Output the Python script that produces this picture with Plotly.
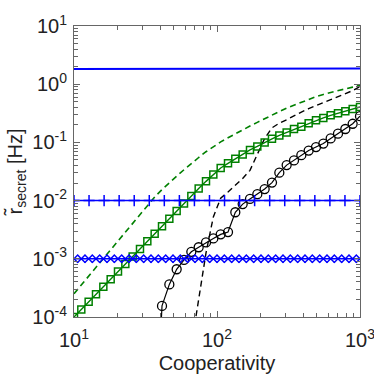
import plotly.graph_objects as go

# cooperativity grid (40 log-spaced points from 10 to 1000)
coop = [10.0, 11.25, 12.66, 14.25, 16.04, 18.05, 20.31, 22.86, 25.72, 28.94,
        32.57, 36.65, 41.25, 46.42, 52.23, 58.78, 66.15, 74.44, 83.77, 94.27,
        106.1, 119.4, 134.3, 151.2, 170.1, 191.4, 215.4, 242.4, 272.8, 307.0,
        345.5, 388.8, 437.5, 492.4, 554.1, 623.5, 701.7, 789.6, 888.6, 1000.0]

# coarser grid (20 points) for the '+' series
coop_coarse = [10.0, 12.74, 16.24, 20.69, 26.37, 33.60, 42.81, 54.56, 69.52, 88.59,
               112.9, 143.8, 183.3, 233.6, 297.6, 379.3, 483.3, 615.8, 784.8, 1000.0]

coop_ends = [10.0, 1000.0]
blue_top = [1.83, 1.86]

blue_plus = [0.01] * 20
blue_x = [0.001] * 40

green_sq = [1.0e-4, 1.35e-4, 1.82e-4, 2.45e-4, 3.31e-4, 4.47e-4, 6.03e-4, 8.13e-4, 1.10e-3, 1.48e-3,
            2.00e-3, 2.69e-3, 3.63e-3, 4.90e-3, 6.61e-3, 8.91e-3, 1.20e-2, 1.62e-2, 2.14e-2, 2.82e-2,
            3.63e-2, 4.37e-2, 5.25e-2, 6.17e-2, 7.41e-2, 8.51e-2, 0.100, 0.115, 0.132, 0.148,
            0.170, 0.186, 0.214, 0.240, 0.263, 0.292, 0.316, 0.343, 0.376, 0.407]

green_dash = [2.51e-4, 3.55e-4, 5.01e-4, 7.24e-4, 1.02e-3, 1.45e-3, 2.04e-3, 2.88e-3, 4.07e-3, 5.75e-3,
              8.32e-3, 1.15e-2, 1.55e-2, 2.04e-2, 2.63e-2, 3.39e-2, 4.37e-2, 5.50e-2, 6.92e-2, 8.51e-2,
              0.102, 0.120, 0.141, 0.166, 0.191, 0.221, 0.257, 0.295, 0.339, 0.389,
              0.437, 0.490, 0.550, 0.610, 0.668, 0.724, 0.785, 0.832, 0.891, 0.955]

black_circ = [None] * 11 + [4.0e-7, 1.55e-4, 3.63e-4, 6.61e-4, 9.55e-4, 1.32e-3, 1.58e-3, 1.91e-3, 2.24e-3,
              2.63e-3, 2.88e-3, 6.31e-3, 8.71e-3, 1.07e-2, 1.29e-2, 1.58e-2, 2.04e-2, 3.02e-2, 4.07e-2,
              4.90e-2, 6.03e-2, 7.24e-2, 8.32e-2, 9.55e-2, 0.117, 0.141, 0.170, 0.209, 0.282]

black_dash = [None] * 16 + [3.2e-5, 1.91e-4, 1.26e-3, 5.25e-3,
              1.10e-2, 1.41e-2, 1.82e-2, 2.40e-2, 3.31e-2, 6.03e-2, 0.117, 0.178, 0.214, 0.245,
              0.288, 0.331, 0.380, 0.427, 0.479, 0.537, 0.610, 0.684, 0.776, 0.912]

# minor tick positions (2..9 in each decade)
x_minor = [m * 10 ** d for d in (1, 2) for m in range(2, 10)]
y_minor = [m * 10.0 ** d for d in (-4, -3, -2, -1, 0) for m in range(2, 10)]

BLUE = '#0000ff'
GREEN = '#008000'
BLACK = '#000000'
FONT = 'Liberation Sans, Arial, sans-serif'

fig = go.Figure()
fig.add_trace(go.Scatter(x=coop, y=green_dash, mode='lines',
                         line=dict(color=GREEN, width=1.6, dash='6px,4px')))
fig.add_trace(go.Scatter(x=coop, y=black_dash, mode='lines',
                         line=dict(color=BLACK, width=1.4, dash='6px,4px')))
fig.add_trace(go.Scatter(x=coop, y=green_sq, mode='lines+markers',
                         line=dict(color=GREEN, width=1.4),
                         marker=dict(symbol='square-open', size=7, color=GREEN,
                                     line=dict(width=1.5, color=GREEN))))
fig.add_trace(go.Scatter(x=coop, y=black_circ, mode='lines+markers',
                         line=dict(color=BLACK, width=1.2),
                         marker=dict(symbol='circle-open', size=9, color=BLACK,
                                     line=dict(width=1.3, color=BLACK))))
fig.add_trace(go.Scatter(x=coop_ends, y=blue_top, mode='lines',
                         line=dict(color=BLUE, width=2)))
fig.add_trace(go.Scatter(x=coop_coarse, y=blue_plus, mode='lines+markers',
                         line=dict(color=BLUE, width=1.5),
                         marker=dict(symbol='cross-thin', size=8, color=BLUE,
                                     line=dict(width=1.5, color=BLUE))))
fig.add_trace(go.Scatter(x=coop, y=blue_x, mode='lines+markers',
                         line=dict(color=BLUE, width=1.5),
                         marker=dict(symbol='x-thin', size=8, color=BLUE,
                                     line=dict(width=1.5, color=BLUE))))

axis_common = dict(type='log', showline=True, linecolor='#666666', linewidth=1,
                   mirror='allticks', ticks='inside', ticklen=6, tickcolor='#666666',
                   showgrid=False, zeroline=False, automargin=False,
                   ticklabeloverflow='allow',
                   tickfont=dict(family=FONT, size=20, color='#222222'))

fig.update_xaxes(range=[1, 3], tickvals=[10, 100, 1000],
                 ticktext=['10<sup>1</sup>', '10<sup>2</sup>', '10<sup>3</sup>'],
                 ticklabelstandoff=5,
                 minor=dict(tickmode='array', tickvals=x_minor, ticks='inside', ticklen=4,
                            tickcolor='#666666', showgrid=False),
                 title=dict(text='Cooperativity', font=dict(family=FONT, size=20, color='#222222'),
                            standoff=8),
                 **axis_common)
fig.update_yaxes(range=[-4, 1], tickvals=[1e-4, 1e-3, 1e-2, 1e-1, 1, 10],
                 ticktext=['10<sup>-4</sup>', '10<sup>-3</sup>', '10<sup>-2</sup>',
                           '10<sup>-1</sup>', '10<sup>0</sup>', '10<sup>1</sup>'],
                 ticklabelstandoff=2,
                 minor=dict(tickmode='array', tickvals=y_minor, ticks='inside', ticklen=4,
                            tickcolor='#666666', showgrid=False),
                 title=dict(text='r\u0303<sub>secret</sub> [Hz]',
                            font=dict(family=FONT, size=20, color='#222222'), standoff=4),
                 **axis_common)

fig.update_layout(width=374, height=374, showlegend=False,
                  paper_bgcolor='white', plot_bgcolor='white',
                  margin=dict(l=74, r=14, t=26, b=57))

fig.write_html("out.html", config={'displayModeBar': False},
               post_script="document.body.style.margin='0';")
